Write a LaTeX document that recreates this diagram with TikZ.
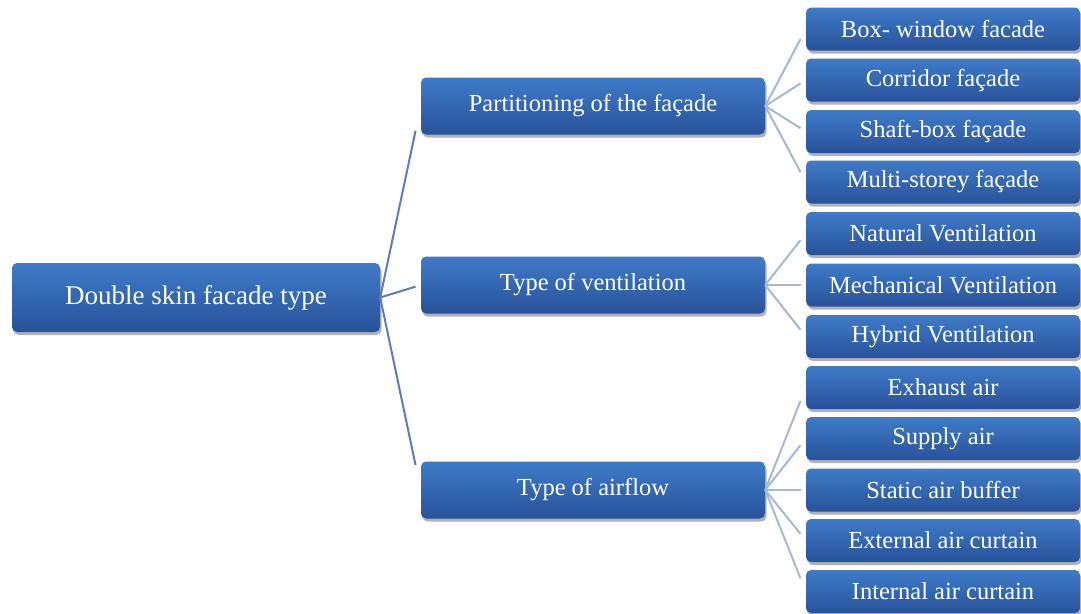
\documentclass[tikz,border=0pt]{standalone}
\usepackage{fontspec}
\setmainfont{Liberation Serif}
\usetikzlibrary{calc,shadows}
\definecolor{boxtop}{HTML}{3F7BC8}
\definecolor{boxbot}{HTML}{28529A}
\definecolor{rootline}{HTML}{5C7DB8}
\definecolor{leafline}{HTML}{A8B8D1}
\tikzset{
  box/.style={rounded corners=5pt, top color=boxtop, bottom color=boxbot, draw=none,
    text=white, inner sep=0pt, align=center,
    drop shadow={shadow xshift=1.5pt, shadow yshift=-3pt, opacity=0.3, fill=black}},
  rootbox/.style={box, minimum width=368pt, minimum height=69pt, font=\fontsize{27}{32}\selectfont},
  midbox/.style={box, minimum width=344pt, minimum height=57pt, font=\fontsize{24.5}{29}\selectfont},
  leafbox/.style={box, minimum width=274pt, minimum height=43pt, font=\fontsize{24.5}{29}\selectfont},
  rootconn/.style={draw=rootline, line width=2pt},
  leafconn/.style={draw=leafline, line width=2pt},
}
\begin{document}
\begin{tikzpicture}[x=1pt,y=-1pt]
\useasboundingbox (0,0) rectangle (1081,613);
\path (196,297.5) node[rootbox] (root) {Double skin facade type};
\path (593,106) node[midbox] (part) {Partitioning of the façade};
\path (593,285) node[midbox] (vent) {Type of ventilation};
\path (593,490) node[midbox] (air) {Type of airflow};
\path (943,29)    node[leafbox] (l1) {Box- window facade};
\path (943,80)    node[leafbox] (l2) {Corridor façade};
\path (943,131.5) node[leafbox] (l3) {Shaft-box façade};
\path (943,182)   node[leafbox] (l4) {Multi-storey façade};
\path (943,233.5) node[leafbox] (l5) {Natural Ventilation};
\path (943,285)   node[leafbox] (l6) {Mechanical Ventilation};
\path (943,336.5) node[leafbox] (l7) {Hybrid Ventilation};
\path (943,387.5) node[leafbox] (l8) {Exhaust air};
\path (943,438.5) node[leafbox] (l9) {Supply air};
\path (943,490)   node[leafbox] (l10) {Static air buffer};
\path (943,540.5) node[leafbox] (l11) {External air curtain};
\path (943,591.5) node[leafbox] (l12) {Internal air curtain};
\foreach \m in {part,vent,air}
  \draw[rootconn] (root.east) -- ($(\m.west)!0.13!(root.east)$);
\foreach \l in {l1,l2,l3,l4}
  \draw[leafconn] (part.east) -- ($(\l.west)!0.13!(part.east)$);
\foreach \l in {l5,l6,l7}
  \draw[leafconn] (vent.east) -- ($(\l.west)!0.13!(vent.east)$);
\foreach \l in {l8,l9,l10,l11,l12}
  \draw[leafconn] (air.east) -- ($(\l.west)!0.13!(air.east)$);
\end{tikzpicture}
\end{document}
